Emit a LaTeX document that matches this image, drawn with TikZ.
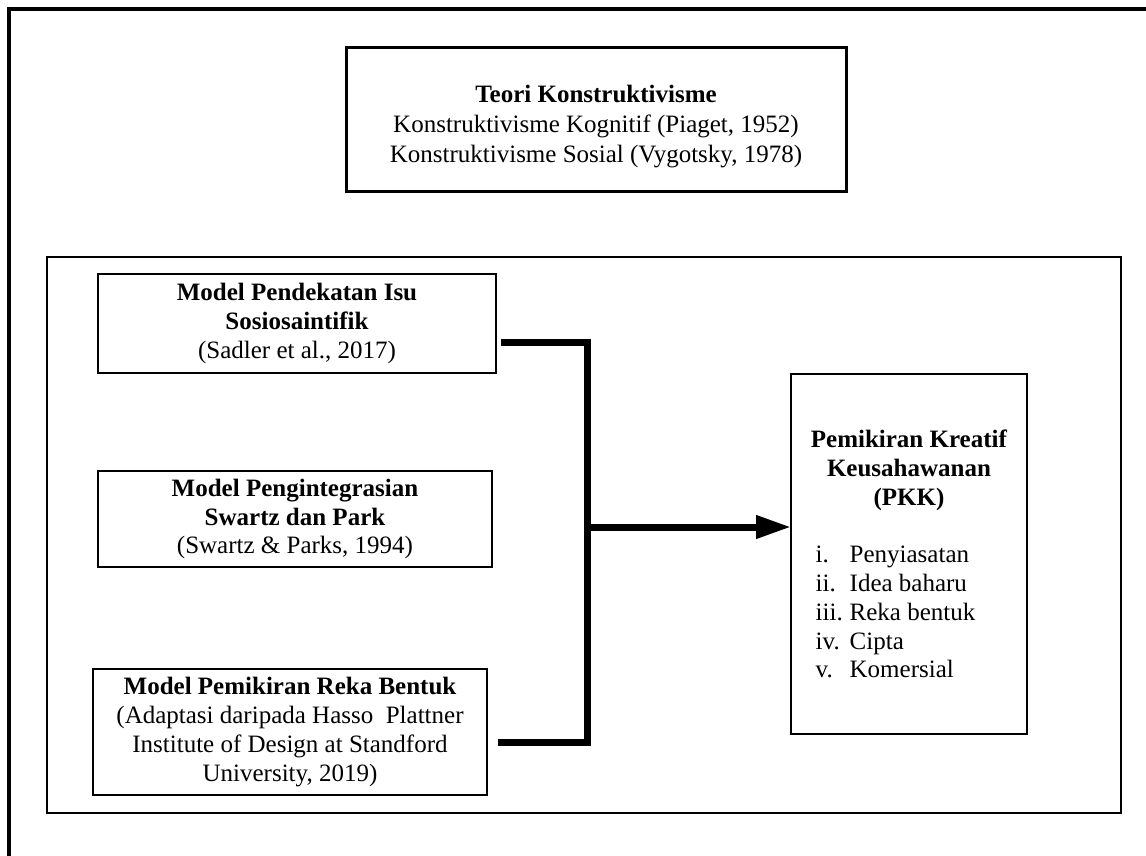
\documentclass[tikz,border=0pt]{standalone}
\usepackage{fontspec}
\setmainfont{Liberation Serif}
\usetikzlibrary{arrows.meta,calc}
\begin{document}
\begin{tikzpicture}[x=1pt,y=-1pt,
  font=\fontsize{25}{28.75}\selectfont,
  box/.style={draw, line width=1.5pt, inner sep=0pt, outer sep=0pt, align=center},
  topbox/.style={box, line width=3pt, font=\fontsize{25}{30}\selectfont},
  pkkbox/.style={box, line width=2pt},
  bar/.style={line width=7pt, line join=miter},
  innerframe/.style={line width=2pt},
  outerframe/.style={line width=4pt}]
\path[use as bounding box, clip] (0,0) rectangle (1146,855);
\fill[white] (0,0) rectangle (1146,855);
% frames
\draw[outerframe] (8.5,900) -- (8.5,8.5) -- (1200,8.5);
\draw[innerframe] (47,256.5) rectangle (1121,813);
% nodes
\node[topbox, minimum width=500pt, minimum height=144pt] (T) at (596,119)
  {\rule{0pt}{33pt}\textbf{Teori Konstruktivisme}\\Konstruktivisme Kognitif (Piaget, 1952)\\Konstruktivisme Sosial (Vygotsky, 1978)};
\node[box, minimum width=398pt, minimum height=99pt] (A) at (297,323.5)
  {\textbf{Model Pendekatan Isu}\\\textbf{Sosiosaintifik}\\(Sadler et al., 2017)};
\node[box, minimum width=394pt, minimum height=96pt] (B) at (295,519)
  {\textbf{Model Pengintegrasian}\\\textbf{Swartz dan Park}\\(Swartz \& Parks, 1994)};
\node[box, minimum width=394pt, minimum height=126pt] (C) at (290,732)
  {\textbf{Model Pemikiran Reka Bentuk}\\(Adaptasi daripada Hasso~ Plattner\\Institute of Design at Standford\\University, 2019)};
\node[pkkbox, minimum width=236pt, minimum height=360pt] (P) at (909,554)
  {\rule{0pt}{26pt}\textbf{Pemikiran Kreatif}\\\textbf{Keusahawanan}\\\textbf{(PKK)}\\[29pt]%
   \hspace*{-27pt}\begin{tabular}[t]{@{}l@{}}
   \makebox[34pt][l]{i.}Penyiasatan\\
   \makebox[34pt][l]{ii.}Idea baharu\\
   \makebox[34pt][l]{iii.}Reka bentuk\\
   \makebox[34pt][l]{iv.}Cipta\\
   \makebox[34pt][l]{v.}Komersial
   \end{tabular}};
% connectors
\coordinate (J1) at (587.5,342);
\coordinate (J2) at (587.5,742);
\coordinate (J) at (587.5,527);
\draw[bar] ($(A.east)+(5,18.5)$) -- (J1) -- (J2) -- ($(C.east)+(11,10)$);
\draw[bar,-{Triangle[length=35pt,width=22pt]}] (J) -- ($(P.west)+(0,-27)$);
\end{tikzpicture}
\end{document}
